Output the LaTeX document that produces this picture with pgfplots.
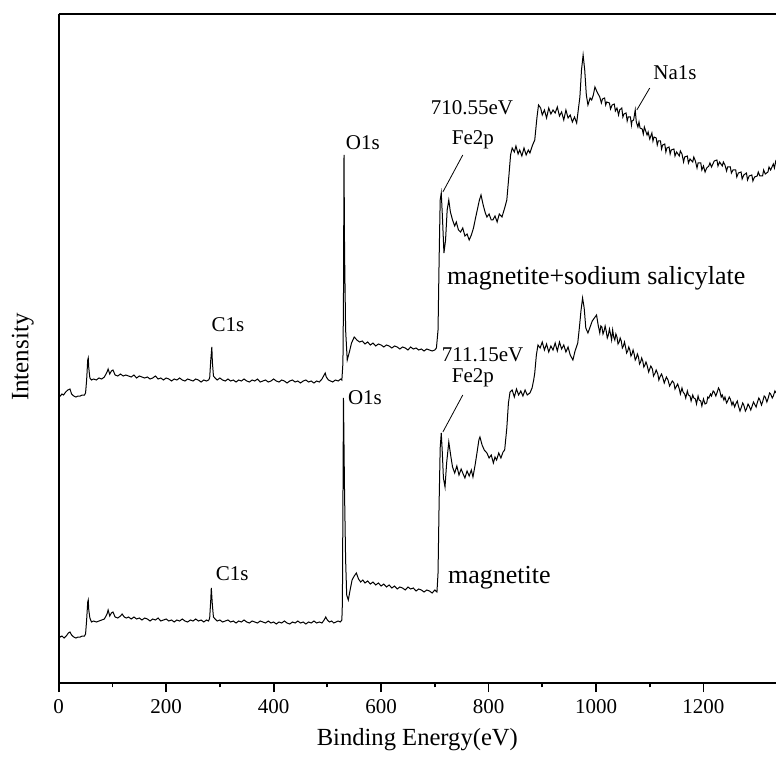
\documentclass[border=0pt]{standalone}
\usepackage{fontspec}
\setmainfont{Liberation Serif}
\usepackage{pgfplots}
\pgfplotsset{compat=1.18}

\begin{document}
\begin{tikzpicture}
\begin{axis}[
    name=ax,
    scale only axis,
    width=358.65pt, height=334.5pt,
    xmin=0, xmax=1335,
    ymin=0, ymax=669,
    axis x line*=bottom,
    axis y line*=left,
    axis line style={line width=1pt},
    xtick={0,200,400,600,800,1000,1200},
    minor x tick num=1,
    ytick=\empty,
    tick align=outside,
    major tick length=4.5pt,
    minor tick length=2.2pt,
    every tick/.style={black, line width=0.9pt},
    /pgf/number format/assume math mode=true,
    /pgf/number format/set thousands separator={},
    tick label style={font=\fontsize{10.5}{12}\selectfont},
    xlabel={Binding Energy(eV)},
    ylabel={Intensity},
    every axis x label/.style={at={(axis description cs:0.5,-0.085)}, anchor=center, font=\fontsize{12.3}{14}\selectfont},
    every axis y label/.style={at={(axis description cs:-0.0502,0.487)}, rotate=90, anchor=center, font=\fontsize{12.5}{14}\selectfont},
]

% magnetite + sodium salicylate
\addplot[black, line width=0.5pt] coordinates {
(0,288)(3,287)(6,289)(9,288)(13,291)(17,293)(21,294)(24,289)(28,287)(32,286)(36,287)(40,287)(44,288)(48,288)(50,290)(52,303)(54,323)(55,325)(56,315)(58,305)(61,303)(65,304)(70,303)(75,305)(80,304)(85,306)(90,311)(92,314)(95,309)(98,312)(101,313)(105,308)(110,307)(115,309)(120,307)(125,308)(130,307)(135,306)(140,308)(145,305)(150,307)(155,306)(160,305)(165,306)(170,304)(175,305)(180,307)(185,304)(190,305)(195,303)(200,305)(205,304)(210,302)(215,304)(220,303)(225,305)(230,303)(235,302)(240,304)(245,303)(250,302)(255,304)(260,303)(265,301)(270,303)(275,302)(279,303)(281,305)(283,323)(285,336)(286,321)(288,307)(291,305)(295,303)(300,305)(305,303)(310,302)(315,304)(320,302)(325,303)(330,301)(335,303)(340,302)(345,304)(350,302)(355,301)(360,303)(365,302)(370,304)(375,301)(380,302)(385,303)(390,301)(395,302)(400,304)(405,302)(410,301)(415,303)(420,302)(425,300)(430,302)(435,303)(440,301)(445,302)(450,300)(455,302)(460,303)(465,301)(470,302)(475,300)(480,302)(485,301)(490,304)(494,308)(496,310)(498,306)(502,303)(506,302)(510,301)(515,303)(520,302)(525,304)(527,303)(529,320)(530,383)(531,528)(532,433)(534,353)(537,323)(541,331)(545,340)(550,346)(555,343)(560,341)(565,342)(570,339)(575,341)(580,338)(585,340)(590,337)(595,339)(600,338)(605,336)(610,338)(615,337)(620,335)(625,337)(630,336)(635,334)(640,336)(645,335)(650,333)(655,336)(660,334)(665,335)(670,333)(675,334)(680,332)(685,334)(690,333)(695,332)(700,333)(703,335)(706,353)(708,423)(710,483)(712,490)(714,468)(717,430)(720,443)(723,473)(726,483)(729,471)(733,463)(737,457)(740,461)(744,453)(748,451)(752,455)(756,447)(760,449)(764,443)(768,448)(772,455)(775,463)(779,473)(783,483)(786,488)(790,478)(794,470)(797,466)(801,469)(805,463)(808,463)(812,467)(816,461)(820,469)(825,466)(830,475)(834,483)(838,508)(841,528)(844,535)(848,531)(851,537)(855,529)(858,533)(862,527)(866,535)(870,528)(874,533)(877,530)(882,538)(886,543)(890,565)(893,578)(897,575)(900,568)(904,573)(908,565)(912,575)(916,569)(920,573)(924,570)(928,576)(932,567)(936,571)(940,563)(944,573)(948,565)(952,568)(956,561)(960,566)(964,560)(967,573)(970,586)(973,613)(976,628)(979,613)(982,588)(985,578)(989,585)(992,583)(995,588)(998,596)(1002,591)(1007,586)(1010,580)(1012,584)(1016,585)(1018,578)(1020,581)(1025,580)(1027,574)(1030,578)(1034,579)(1036,572)(1039,575)(1042,568)(1044,573)(1048,575)(1050,566)(1052,569)(1056,570)(1058,562)(1060,566)(1064,566)(1066,558)(1067,562)(1070,563)(1073,573)(1075,561)(1078,556)(1080,561)(1082,555)(1086,554)(1088,549)(1090,556)(1095,548)(1097,551)(1100,544)(1104,550)(1106,542)(1108,546)(1112,545)(1114,538)(1116,542)(1120,542)(1122,534)(1124,538)(1128,539)(1130,531)(1132,535)(1136,536)(1138,529)(1140,533)(1145,534)(1147,527)(1150,531)(1155,527)(1157,532)(1160,529)(1163,521)(1165,526)(1170,527)(1172,520)(1175,524)(1180,521)(1182,526)(1185,522)(1188,515)(1190,520)(1195,520)(1197,513)(1200,517)(1203,511)(1206,515)(1210,517)(1212,520)(1215,516)(1220,522)(1225,523)(1227,517)(1230,521)(1235,517)(1237,521)(1240,518)(1243,512)(1245,516)(1250,516)(1252,510)(1255,513)(1260,513)(1262,506)(1265,510)(1270,511)(1272,504)(1275,508)(1280,510)(1282,503)(1285,507)(1290,508)(1292,502)(1295,506)(1300,507)(1302,511)(1305,507)(1310,507)(1312,513)(1315,509)(1320,511)(1322,516)(1325,513)(1330,519)(1332,515)(1335,523)
};

% magnetite
\addplot[black, line width=0.5pt] coordinates {
(0,48)(3,46)(6,47)(10,45)(14,47)(18,50)(21,51)(24,48)(28,46)(32,45)(36,46)(40,46)(44,47)(48,47)(50,49)(52,63)(54,81)(55,83)(56,73)(58,65)(61,61)(65,62)(70,61)(75,62)(80,63)(85,64)(90,69)(92,73)(95,67)(98,70)(101,71)(105,66)(110,65)(115,67)(118,69)(122,66)(126,65)(130,66)(135,64)(140,66)(145,64)(150,65)(155,63)(160,65)(165,64)(170,62)(175,64)(180,63)(185,65)(190,62)(195,63)(200,64)(205,62)(210,63)(215,61)(220,63)(225,62)(230,64)(235,62)(240,61)(245,63)(250,62)(255,64)(260,62)(265,63)(270,61)(275,63)(279,62)(281,65)(283,83)(284,95)(286,78)(288,66)(291,64)(295,62)(300,63)(305,61)(310,62)(315,63)(320,61)(325,62)(330,60)(335,62)(340,61)(345,63)(350,61)(355,60)(360,62)(365,61)(370,60)(375,62)(380,61)(385,60)(390,62)(395,60)(400,61)(405,59)(410,61)(415,60)(420,62)(425,60)(430,59)(435,61)(440,60)(445,62)(450,60)(455,61)(460,59)(465,61)(470,60)(475,62)(480,60)(485,61)(490,60)(494,63)(497,66)(500,63)(504,61)(508,62)(512,60)(516,61)(520,62)(524,61)(527,63)(528,80)(529,180)(530,285)(532,190)(534,123)(536,88)(539,83)(542,92)(546,103)(550,107)(554,110)(558,104)(562,101)(566,103)(570,100)(575,102)(580,99)(585,101)(590,98)(595,100)(600,97)(605,99)(610,96)(615,98)(620,95)(625,97)(630,94)(635,96)(640,95)(645,93)(650,96)(655,94)(660,95)(665,92)(670,94)(675,93)(680,91)(685,93)(690,92)(695,90)(700,93)(704,91)(706,110)(708,180)(710,235)(712,250)(714,230)(716,205)(719,196)(722,220)(726,241)(730,226)(733,216)(737,210)(741,217)(745,208)(749,214)(752,210)(756,205)(760,212)(764,207)(768,213)(771,206)(775,218)(779,232)(782,243)(784,246)(788,238)(792,233)(797,230)(801,225)(805,228)(809,220)(812,226)(815,223)(819,230)(823,225)(827,231)(830,233)(834,255)(837,280)(840,291)(844,293)(848,286)(852,294)(856,288)(860,292)(864,287)(868,293)(872,288)(877,290)(881,295)(884,303)(886,310)(889,328)(892,338)(896,335)(900,341)(904,333)(908,339)(912,331)(916,337)(920,333)(924,340)(928,332)(932,341)(936,334)(940,338)(944,331)(948,336)(952,328)(957,323)(961,332)(966,340)(969,355)(972,372)(975,385)(978,375)(981,355)(985,350)(989,356)(993,362)(997,365)(1001,368)(1004,358)(1007,350)(1009,357)(1011,356)(1013,349)(1015,352)(1017,357)(1019,352)(1021,345)(1023,348)(1025,354)(1027,349)(1029,343)(1031,353)(1033,346)(1035,343)(1037,349)(1039,346)(1041,339)(1043,341)(1045,345)(1047,342)(1049,335)(1051,337)(1053,341)(1055,336)(1057,330)(1059,332)(1061,336)(1063,333)(1065,327)(1067,329)(1069,333)(1071,329)(1073,323)(1075,325)(1077,329)(1079,326)(1081,319)(1083,321)(1085,325)(1087,322)(1089,316)(1091,318)(1093,321)(1095,318)(1098,311)(1100,314)(1102,317)(1105,314)(1107,307)(1110,310)(1112,313)(1115,309)(1117,303)(1119,306)(1122,309)(1124,306)(1127,300)(1129,303)(1131,306)(1134,303)(1137,297)(1140,300)(1142,302)(1145,300)(1147,294)(1150,297)(1152,299)(1155,294)(1157,289)(1160,295)(1162,291)(1165,289)(1167,285)(1170,292)(1172,288)(1175,287)(1177,282)(1180,288)(1182,285)(1185,284)(1187,279)(1190,287)(1192,283)(1195,282)(1197,277)(1200,284)(1203,279)(1206,280)(1208,286)(1210,285)(1213,289)(1215,287)(1218,292)(1220,291)(1223,287)(1225,290)(1228,295)(1230,293)(1233,286)(1235,288)(1238,283)(1240,286)(1243,280)(1245,282)(1248,286)(1250,284)(1253,278)(1255,281)(1258,276)(1260,279)(1263,282)(1265,277)(1268,272)(1270,275)(1273,280)(1275,278)(1278,272)(1280,274)(1283,279)(1285,277)(1288,273)(1290,276)(1293,281)(1295,279)(1298,276)(1300,280)(1303,285)(1305,283)(1308,278)(1310,281)(1313,287)(1315,286)(1318,281)(1320,284)(1323,290)(1325,289)(1328,285)(1330,287)(1333,292)(1335,290)
};

% peak labels
\begin{scope}[every node/.style={font=\fontsize{10.5}{12}\selectfont, inner sep=0pt}]
\node at (axis cs:315,358) {C1s};
\node at (axis cs:566,540) {O1s};
\node at (axis cs:769,575) {710.55eV};
\node at (axis cs:771,543) {Fe2p};
\node at (axis cs:1147,610) {Na1s};
\node at (axis cs:789,328) {711.15eV};
\node at (axis cs:771,305) {Fe2p};
\node at (axis cs:570,285) {O1s};
\node at (axis cs:323,109) {C1s};
\end{scope}
\draw[line width=0.4pt] (axis cs:752,528) -- (axis cs:715,491);
\draw[line width=0.4pt] (axis cs:1100,595) -- (axis cs:1076,573);
\draw[line width=0.4pt] (axis cs:752,288) -- (axis cs:715,251);

\node[anchor=west, inner sep=0pt, font=\fontsize{13}{15}\selectfont] at (axis cs:722,405) {magnetite+sodium salicylate};
\node[anchor=west, inner sep=0pt, font=\fontsize{13}{15}\selectfont] at (axis cs:724,105) {magnetite};

% top border
\draw[line width=1pt] (rel axis cs:0,1) -- (rel axis cs:1,1);
\end{axis}
\pgfresetboundingbox
\path ([shift={(-29.35pt,-36.5pt)}]ax.south west) rectangle ([shift={(0pt,7pt)}]ax.north east);
\end{tikzpicture}
\end{document}
